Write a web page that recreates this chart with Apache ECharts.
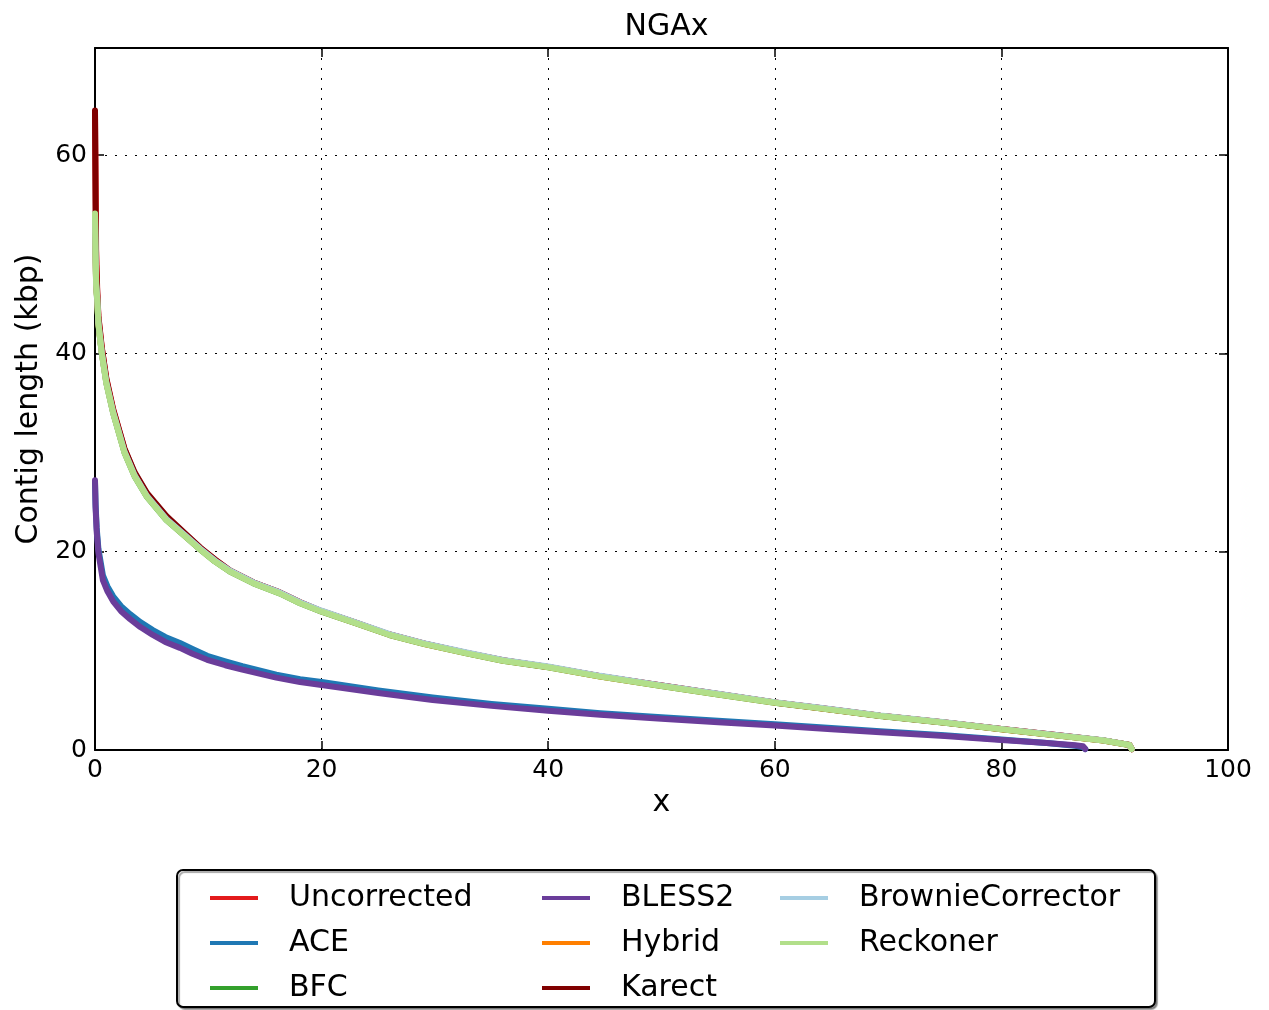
<!DOCTYPE html>
<html>
<head>
<meta charset="utf-8">
<script src="https://cdn.jsdelivr.net/npm/echarts@6/dist/echarts.min.js"></script>
<style>
html,body{margin:0;padding:0;background:#fff;}
#chart{width:1269px;height:1010px;}
</style>
</head>
<body>
<div id="chart"></div>
<script>
// ---- data ----
const seriesNames = ['Uncorrected','ACE','BFC','BLESS2','Hybrid','Karect','BrownieCorrector','Reckoner'];
const seriesColors = ['#e31a1c','#1f78b4','#33a02c','#6a3d9a','#ff7f00','#800000','#a6cee3','#b2df8a'];

const xTicks = [0, 20, 40, 60, 80, 100];
const yTicks = [0, 20, 40, 60];

const upperX = [0.0, 0.05, 0.1, 0.2, 0.3, 0.6, 1.0, 1.6, 2.6, 3.5, 4.6, 6.3, 8.0, 9.3, 10.6, 11.9, 14.0, 16.3, 18.1, 20.0, 23.0, 26.0, 29.0, 32.8, 36.0, 40.0, 44.6, 50.0, 55.0, 60.0, 64.0, 69.3, 75.0, 80.0, 85.0, 89.0, 91.3, 91.5];
const uncorrectedY = [64.3, 58.0, 50.5, 46.2, 43.8, 40.6, 37.5, 34.4, 30.4, 27.9, 25.8, 23.5, 21.7, 20.4, 19.2, 18.1, 16.9, 15.9, 14.9, 14.0, 12.85, 11.65, 10.75, 9.8, 9.05, 8.38, 7.45, 6.5, 5.65, 4.8, 4.23, 3.46, 2.78, 2.12, 1.48, 0.97, 0.52, 0.1];
const bfcY = [52.0, 49.5, 46.8, 45.2, 42.9, 40.0, 37.0, 34.0, 30.0, 27.6, 25.5, 23.2, 21.5, 20.2, 19.0, 18.0, 16.8, 15.8, 14.8, 13.95, 12.8, 11.6, 10.7, 9.75, 9.0, 8.34, 7.4, 6.45, 5.6, 4.77, 4.2, 3.43, 2.75, 2.09, 1.45, 0.95, 0.5, 0.1];
const hybridY = [53.5, 50.0, 47.0, 45.4, 43.0, 40.1, 37.1, 34.1, 30.1, 27.7, 25.6, 23.3, 21.55, 20.25, 19.05, 18.05, 16.85, 15.85, 14.85, 14.0, 12.82, 11.62, 10.72, 9.77, 9.02, 8.36, 7.42, 6.47, 5.62, 4.79, 4.22, 3.45, 2.77, 2.1, 1.46, 0.96, 0.51, 0.1];
const karectY = [64.5, 55.0, 49.0, 46.0, 43.6, 40.5, 37.4, 34.3, 30.4, 28.0, 25.9, 23.6, 21.8, 20.4, 19.2, 18.1, 16.9, 15.9, 14.9, 14.0, 12.85, 11.65, 10.75, 9.8, 9.05, 8.38, 7.45, 6.5, 5.65, 4.8, 4.23, 3.46, 2.78, 2.12, 1.48, 0.97, 0.52, 0.1];
const brownieY = [54.0, 50.2, 47.1, 45.5, 43.1, 40.1, 37.1, 34.1, 30.1, 27.7, 25.6, 23.3, 21.6, 20.3, 19.1, 18.1, 16.9, 15.9, 14.9, 14.05, 12.88, 11.68, 10.78, 9.83, 9.08, 8.42, 7.48, 6.52, 5.67, 4.83, 4.26, 3.48, 2.8, 2.13, 1.49, 0.98, 0.52, 0.1];
const reckonerY = [54.1, 50.0, 47.0, 45.4, 43.0, 40.0, 37.0, 34.0, 30.0, 27.6, 25.5, 23.2, 21.5, 20.2, 19.0, 18.0, 16.8, 15.8, 14.8, 13.95, 12.8, 11.6, 10.7, 9.75, 9.0, 8.34, 7.4, 6.45, 5.6, 4.77, 4.2, 3.43, 2.75, 2.09, 1.45, 0.95, 0.5, 0.1];

const lowerX = [0.0, 0.05, 0.15, 0.3, 0.7, 1.1, 1.6, 2.3, 3.1, 4.0, 5.1, 6.2, 7.5, 8.6, 9.9, 11.5, 13.0, 16.0, 18.1, 20.0, 25.0, 29.8, 35.0, 40.0, 44.6, 50.0, 55.0, 60.0, 65.0, 69.3, 75.0, 80.0, 84.0, 86.5, 87.2, 87.4];
const aceY = [27.0, 24.8, 22.4, 20.3, 17.6, 16.5, 15.5, 14.5, 13.7, 12.9, 12.1, 11.4, 10.8, 10.2, 9.5, 8.95, 8.45, 7.6, 7.15, 6.85, 6.0, 5.3, 4.65, 4.15, 3.72, 3.3, 2.95, 2.6, 2.22, 1.9, 1.48, 1.05, 0.7, 0.42, 0.3, 0.1];
const bless2Y = [27.2, 24.5, 22.0, 19.9, 17.1, 16.0, 15.0, 14.0, 13.2, 12.4, 11.6, 10.9, 10.3, 9.7, 9.1, 8.55, 8.1, 7.3, 6.85, 6.55, 5.75, 5.05, 4.45, 3.96, 3.55, 3.15, 2.8, 2.47, 2.1, 1.8, 1.4, 1.0, 0.7, 0.48, 0.38, 0.1];

// ---- build ----
function pairs(xs, ys){ return xs.map((x,i)=>[x, ys[i]]); }
const seriesData = {
  'Uncorrected': pairs(upperX, uncorrectedY),
  'ACE': pairs(lowerX, aceY),
  'BFC': pairs(upperX, bfcY),
  'BLESS2': pairs(lowerX, bless2Y),
  'Hybrid': pairs(upperX, hybridY),
  'Karect': pairs(upperX, karectY),
  'BrownieCorrector': pairs(upperX, brownieY),
  'Reckoner': pairs(upperX, reckonerY)
};

const FONT = 'DejaVu Sans';
const chart = echarts.init(document.getElementById('chart'), null, {renderer:'canvas'});

const legendCommon = {
  orient: 'vertical',
  top: 883,
  padding: 0,
  icon: 'rect',
  itemWidth: 48,
  itemHeight: 4,
  itemGap: 15,
  selectedMode: false,
  textStyle: {fontFamily: FONT, fontSize: 30, color: '#000', lineHeight: 30, padding: [0,0,0,26]}
};

const tickStyle = {show: true, inside: true, length: 9, lineStyle: {color: '#000', width: 1.5}};
const lineStyleAxis = {show: true, onZero: false, lineStyle: {color: '#000', width: 2}};

const option = {
  animation: false,
  backgroundColor: '#fff',
  title: {
    text: 'NGAx', left: 661.5, textAlign: 'center', top: 7,
    textStyle: {fontFamily: FONT, fontSize: 30, fontWeight: 'normal', color: '#000'}
  },
  grid: {left: 95, right: 41, top: 48, bottom: 260, containLabel: false},
  legend: [
    Object.assign({}, legendCommon, {left: 210, data: ['Uncorrected','ACE','BFC']}),
    Object.assign({}, legendCommon, {left: 542, data: ['BLESS2','Hybrid','Karect']}),
    Object.assign({}, legendCommon, {left: 780, data: ['BrownieCorrector','Reckoner']})
  ],
  graphic: [{
    type: 'rect', z: 0,
    shape: {x: 177, y: 870, width: 978, height: 137, r: 6},
    style: {fill: '#fff', stroke: '#000', lineWidth: 2, shadowColor: 'rgba(0,0,0,0.35)', shadowOffsetX: 2, shadowOffsetY: 2, shadowBlur: 1}
  }],
  xAxis: [{
    type: 'value', min: 0, max: 100, interval: 20, position: 'bottom',
    name: 'x', nameLocation: 'middle', nameGap: 34,
    nameTextStyle: {fontFamily: FONT, fontSize: 30, color: '#000'},
    axisLine: lineStyleAxis, axisTick: tickStyle,
    axisLabel: {fontFamily: FONT, fontSize: 25, color: '#000', margin: 8, showMaxLabel: true, showMinLabel: true,
      customValues: xTicks},
    splitLine: {show: true, lineStyle: {color: '#000', width: 1, type: [2, 8]}}
  }, {
    type: 'value', min: 0, max: 100, interval: 20, position: 'top',
    axisLine: lineStyleAxis, axisTick: tickStyle, axisLabel: {show: false}, splitLine: {show: false}
  }],
  yAxis: [{
    type: 'value', min: 0, max: 70.8, position: 'left',
    name: 'Contig length (kbp)', nameLocation: 'middle', nameGap: 50,
    nameTextStyle: {fontFamily: FONT, fontSize: 30, color: '#000'},
    axisLine: lineStyleAxis,
    axisTick: Object.assign({}, tickStyle, {customValues: yTicks}),
    axisLabel: {fontFamily: FONT, fontSize: 25, color: '#000', margin: 8, customValues: yTicks},
    splitLine: {show: true, lineStyle: {color: '#000', width: 1, type: [2, 8]}}
  }, {
    type: 'value', min: 0, max: 70.8, position: 'right',
    axisLine: lineStyleAxis,
    axisTick: Object.assign({}, tickStyle, {customValues: yTicks}),
    axisLabel: {show: false}, splitLine: {show: false}
  }],
  series: seriesNames.map((n, i) => ({
    name: n, type: 'line', xAxisIndex: 0, yAxisIndex: 0,
    data: seriesData[n], showSymbol: false, symbol: 'none', smooth: false,
    color: seriesColors[i],
    lineStyle: {color: seriesColors[i], width: 6, cap: 'round', join: 'round'},
    z: 2 + i * 0.01
  }))
};
chart.setOption(option);
</script>
</body>
</html>
